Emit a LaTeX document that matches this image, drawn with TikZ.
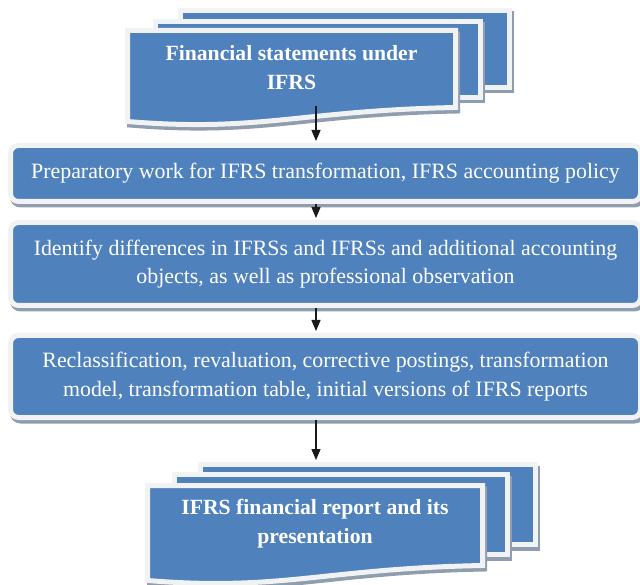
\documentclass[tikz,border=0pt]{standalone}
\usepackage{fontspec}
\setmainfont{Liberation Serif}
\usetikzlibrary{arrows.meta}
\definecolor{boxblue}{HTML}{4F81BD}
\definecolor{rimc}{HTML}{F0F2F4}
\definecolor{shadc}{HTML}{8F9DAF}
\definecolor{arrowc}{HTML}{1A1A1A}
\begin{document}
\begin{tikzpicture}[x=1pt,y=-1pt,
  sheet/.style={fill=boxblue, draw=rimc, line width=5pt,
    preaction={fill=shadc, draw=shadc, line width=5pt,
      transform canvas={xshift=2pt,yshift=-3.5pt}}},
  sheetrect/.style={sheet, rectangle, inner sep=0pt},
  roundbox/.style={sheet, rectangle, rounded corners=8pt, inner sep=0pt,
    minimum width=630pt, text=white, align=center,
    font=\fontsize{21.9}{28.5}\selectfont},
  doctext/.style={text=white, align=center, inner sep=0pt,
    font=\fontsize{21.7}{28.5}\selectfont\bfseries},
  conn/.style={draw=arrowc, line width=1.3pt, shorten >=2pt,
    -{Triangle[width=9pt,length=11pt]}}
]
\useasboundingbox (0,0) rectangle (640,585);

% top multi-document
\node[sheetrect, minimum width=329pt, minimum height=77pt] (tb3) at (345,49) {};
\node[sheetrect, minimum width=325pt, minimum height=76pt] (tb2) at (318,59.5) {};
\path[sheet] (127.5,30.5) -- (455.5,30.5) -- (455.5,107.5)
  .. controls (300,110.5) and (260,132.5) .. (127.5,121.5) -- cycle;
\node[doctext] (tt) at (291.5,67.5) {Financial statements under\\IFRS};

% process boxes
\node[roundbox, minimum height=56pt] (b1) at (325.5,173.5)
  {Preparatory work for IFRS transformation, IFRS accounting policy};
\node[roundbox, minimum height=83pt] (b2) at (325.5,264)
  {Identify differences in IFRSs and IFRSs and additional accounting\\objects, as well as professional observation};
\node[roundbox, minimum height=82pt] (b3) at (325.5,376.5)
  {Reclassification, revaluation, corrective postings, transformation\\model, transformation table, initial versions of IFRS reports};

% bottom multi-document
\node[sheetrect, minimum width=335pt, minimum height=80pt] (bb3) at (368,504.5) {};
\node[sheetrect, minimum width=333pt, minimum height=80pt] (bb2) at (341,514.5) {};
\path[sheet] (147.5,485.5) -- (482.5,485.5) -- (482.5,565.5)
  .. controls (323.6,568.5) and (282.7,591.5) .. (147.5,580.5) -- cycle;
\node[doctext] (bt) at (315,523.5) {IFRS financial report and its\\presentation};

% connectors
\coordinate (tstart) at (316,106);
\draw[conn] (tstart) -- (tstart |- b1.north);
\draw[conn] (b1.south -| tstart) -- (b2.north -| tstart);
\draw[conn] (b2.south -| tstart) -- (b3.north -| tstart);
\draw[conn] (b3.south -| tstart) -- (tstart |- bb3.north);
\end{tikzpicture}
\end{document}
